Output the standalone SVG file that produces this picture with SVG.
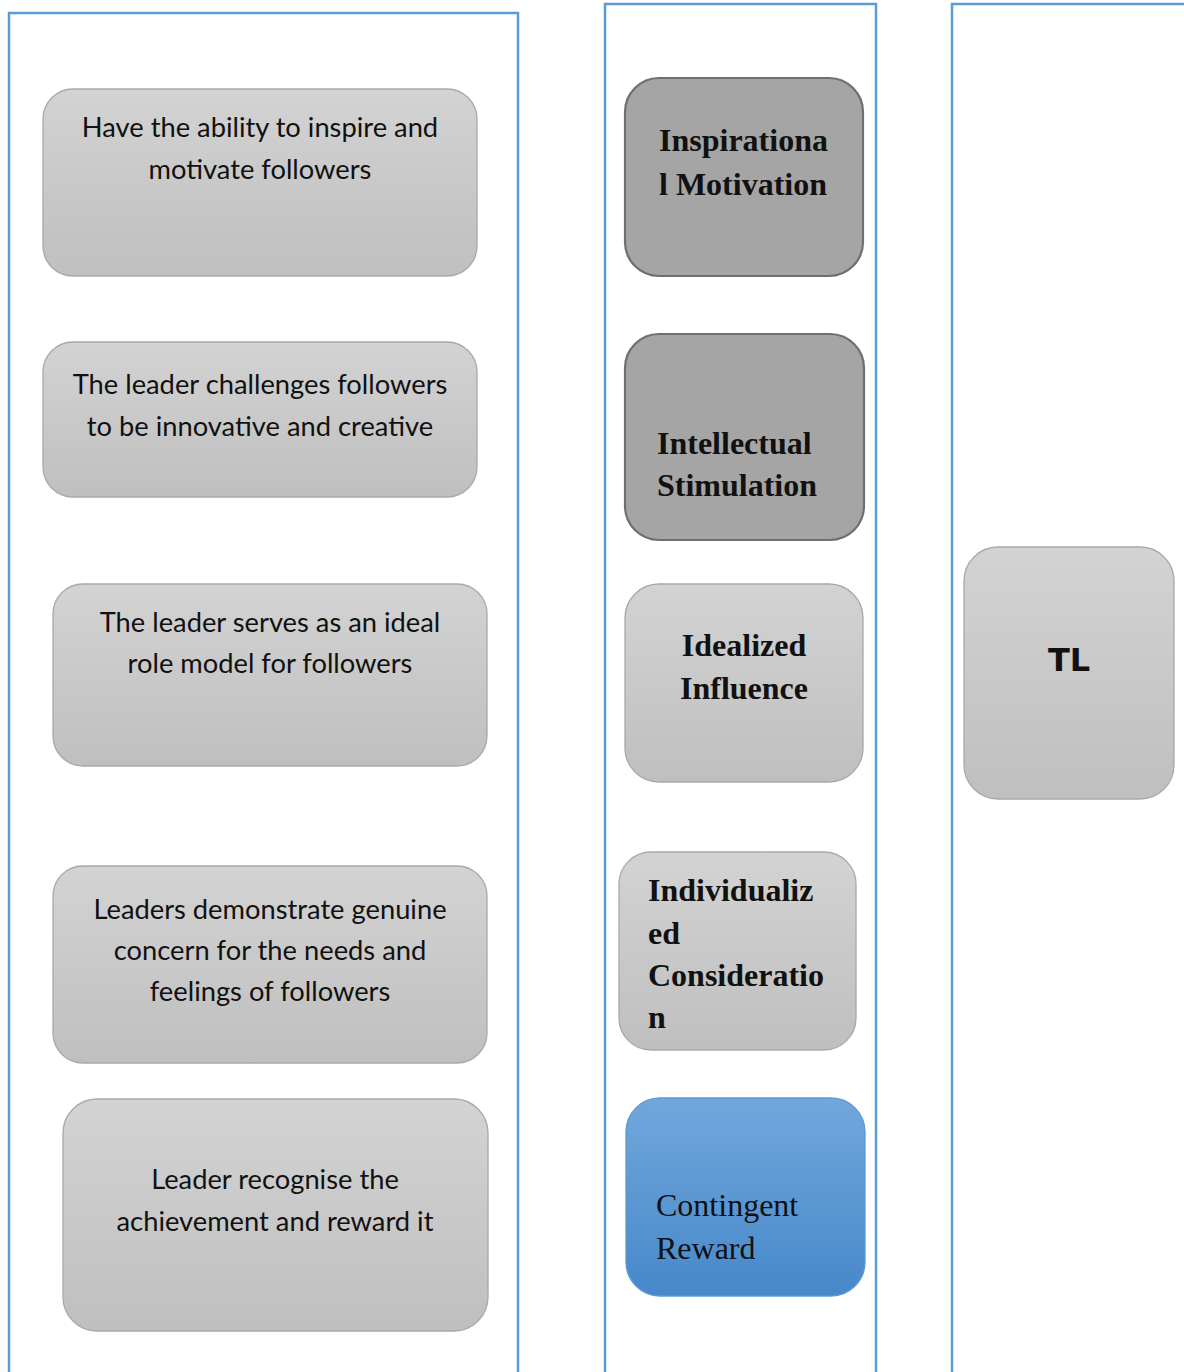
<svg xmlns="http://www.w3.org/2000/svg" width="1184" height="1372" viewBox="0 0 1184 1372">
  <defs>
    <linearGradient id="gLight" x1="0" y1="0" x2="0" y2="1">
      <stop offset="0" stop-color="#d3d3d3"/>
      <stop offset="1" stop-color="#bfbfbf"/>
    </linearGradient>
    <linearGradient id="gBlue" x1="0" y1="0" x2="0" y2="1">
      <stop offset="0" stop-color="#72a7dc"/>
      <stop offset="1" stop-color="#4688ca"/>
    </linearGradient>
    <style>
      .frame { fill: none; stroke: #5b9bd5; stroke-width: 2.5; }
      .light { fill: url(#gLight); stroke: #a9a9a9; stroke-width: 1.3; }
      .dark { fill: #a5a5a5; stroke: #6f6f6f; stroke-width: 2.2; }
      .blue { fill: url(#gBlue); stroke: #5b9bd5; stroke-width: 1.3; }
      .desc { font-family: Lato, "Open Sans", sans-serif; font-size: 27.3px; fill: #111; text-anchor: middle; }
      .dim { font-family: "Liberation Serif", serif; font-weight: bold; font-size: 32px; fill: #111; }
      .dimr { font-family: "Liberation Serif", serif; font-size: 32px; fill: #111; }
      .tl { font-family: "DejaVu Sans", sans-serif; font-weight: bold; font-size: 32px; fill: #111; text-anchor: middle; }
    </style>
  </defs>

  <rect width="1184" height="1372" fill="#ffffff"/>

  <!-- column frames -->
  <g id="frames">
    <rect class="frame" x="9" y="13" width="509" height="1380"/>
    <rect class="frame" x="605" y="4" width="271" height="1390"/>
    <rect class="frame" x="952" y="4" width="260" height="1390"/>
  </g>

  <!-- descriptions -->
  <g id="desc-inspire">
    <rect class="light" x="43" y="89" width="434" height="187" rx="30"/>
    <text class="desc" x="260" y="137">Have the ability to inspire and</text>
    <text class="desc" x="260" y="179">motivate followers</text>
  </g>
  <g id="desc-challenge">
    <rect class="light" x="43" y="342" width="434" height="155" rx="30"/>
    <text class="desc" x="260" y="394">The leader challenges followers</text>
    <text class="desc" x="260" y="436">to be innovative and creative</text>
  </g>
  <g id="desc-role-model">
    <rect class="light" x="53" y="584" width="434" height="182" rx="30"/>
    <text class="desc" x="270" y="632">The leader serves as an ideal</text>
    <text class="desc" x="270" y="673">role model for followers</text>
  </g>
  <g id="desc-concern">
    <rect class="light" x="53" y="866" width="434" height="197" rx="30"/>
    <text class="desc" x="270" y="919">Leaders demonstrate genuine</text>
    <text class="desc" x="270" y="960">concern for the needs and</text>
    <text class="desc" x="270" y="1001">feelings of followers</text>
  </g>
  <g id="desc-reward">
    <rect class="light" x="63" y="1099" width="425" height="232" rx="34"/>
    <text class="desc" x="275" y="1189">Leader recognise the</text>
    <text class="desc" x="275" y="1231">achievement and reward it</text>
  </g>

  <!-- dimensions -->
  <g id="dim-inspirational">
    <rect class="dark" x="625" y="78" width="238" height="198" rx="34"/>
    <text class="dim" x="659" y="151">Inspirationa</text>
    <text class="dim" x="659" y="195">l Motivation</text>
  </g>
  <g id="dim-intellectual">
    <rect class="dark" x="625" y="334" width="239" height="206" rx="34"/>
    <text class="dim" x="657" y="454">Intellectual</text>
    <text class="dim" x="657" y="496">Stimulation</text>
  </g>
  <g id="dim-idealized">
    <rect class="light" x="625" y="584" width="238" height="198" rx="34"/>
    <text class="dim" x="744" y="656" text-anchor="middle">Idealized</text>
    <text class="dim" x="744" y="699" text-anchor="middle">Influence</text>
  </g>
  <g id="dim-individualized">
    <rect class="light" x="619" y="852" width="237" height="198" rx="32"/>
    <text class="dim" x="648" y="901">Individualiz</text>
    <text class="dim" x="648" y="944">ed</text>
    <text class="dim" x="648" y="986">Consideratio</text>
    <text class="dim" x="648" y="1028">n</text>
  </g>
  <g id="dim-contingent">
    <rect class="blue" x="626" y="1098" width="239" height="198" rx="34"/>
    <text class="dimr" x="656" y="1216">Contingent</text>
    <text class="dimr" x="656" y="1259">Reward</text>
  </g>

  <!-- outcome -->
  <g id="tl">
    <rect class="light" x="964" y="547" width="210" height="252" rx="34"/>
    <text class="tl" x="1069" y="671">TL</text>
  </g>

  <g id="connectors"/>
</svg>
